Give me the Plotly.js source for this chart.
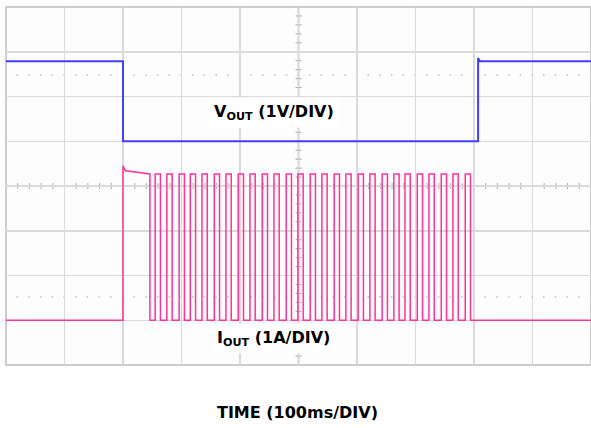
<!DOCTYPE html>
<html>
<head>
<meta charset="utf-8">
<script src="https://cdn.plot.ly/plotly-3.0.1.min.js"></script>
<style>html,body{margin:0;padding:0;background:#fff;}#chart{width:591px;height:428px;}</style>
</head>
<body>
<div id="chart"></div>
<script>
// ---- data (time in ms, 100 ms/div) ----
const voutTime = [0, 200, 200, 807, 807, 810, 1000];
const voutVolts = [1.79, 1.79, 0, 0, 1.86, 1.79, 1.79];

const ioutStartTime = [0, 200, 200, 204, 246];
const ioutStartAmps = [0, 0, 3.45, 3.34, 3.27];
const pulseRise = [255, 275, 296, 315, 335, 356, 376, 397, 417, 438, 458, 479, 499, 520, 540, 561, 581, 602, 622, 643, 663, 682, 703, 723, 744, 764, 785];
const pulseFall = [264, 284, 305, 324, 344, 365, 385, 406, 426, 447, 467, 488, 508, 529, 549, 570, 590, 611, 631, 652, 672, 691, 712, 732, 753, 773, 794];
const pulseHigh = 3.27;
const endTime = 1000;

const voutLabel = '<b>V<sub>OUT</sub> (1V/DIV)</b>';
const ioutLabel = '<b>I<sub>OUT</sub> (1A/DIV)</b>';
const timeLabel = '<b>TIME (100ms/DIV)</b>';

// ---- build current waveform ----
const ix = ioutStartTime.slice();
const iy = ioutStartAmps.slice();
ix.push(ioutStartTime[ioutStartTime.length - 1]); iy.push(0);
for (let k = 0; k < pulseRise.length; k++) {
  ix.push(pulseRise[k], pulseRise[k], pulseFall[k], pulseFall[k]);
  iy.push(0, pulseHigh, pulseHigh, 0);
}
ix.push(endTime); iy.push(0);

const traces = [
  {x: voutTime, y: voutVolts, type: 'scatter', mode: 'lines', line: {color: '#3f3fff', width: 2}, yaxis: 'y', hoverinfo: 'skip'},
  {x: ix, y: iy, type: 'scatter', mode: 'lines', line: {color: '#ff3399', width: 1.5}, yaxis: 'y2', hoverinfo: 'skip'}
];

// ---- decorations ----
const W = 585, H = 358;
const shapes = [];
const grey = '#a9a9a9';
shapes.push({type: 'line', xref: 'paper', yref: 'paper', x0: 0, x1: 1, y0: 0.5, y1: 0.5, line: {color: grey, width: 1.5}, layer: 'below'});
shapes.push({type: 'line', xref: 'paper', yref: 'paper', x0: 0.5, x1: 0.5, y0: 0, y1: 1, line: {color: grey, width: 1.5}, layer: 'below'});
const tl = 3;
for (let i = 1; i < 50; i++) {
  const px = i / 50;
  shapes.push({type: 'line', xref: 'paper', yref: 'paper', x0: px, x1: px, y0: 0.5 - tl / H, y1: 0.5 + tl / H, line: {color: grey, width: 1}, layer: 'below'});
}
for (let i = 1; i < 40; i++) {
  const py = i / 40;
  shapes.push({type: 'line', xref: 'paper', yref: 'paper', x0: 0.5 - tl / W, x1: 0.5 + tl / W, y0: py, y1: py, line: {color: grey, width: 1}, layer: 'below'});
}
// dotted reference lines
[0.81, 0.19].forEach(function (py) {
  shapes.push({type: 'line', xref: 'paper', yref: 'paper', x0: 0.018, x1: 1, y0: py, y1: py, line: {color: '#bdbdbd', width: 1.5, dash: '1.5px,10.2px'}, layer: 'below'});
});
// frame
shapes.push({type: 'rect', xref: 'paper', yref: 'paper', x0: 0, x1: 1, y0: 0, y1: 1, line: {color: '#cccccc', width: 2}, layer: 'below'});

const annotations = [
  {text: voutLabel, xref: 'paper', yref: 'paper', x: 0.458, y: 0.75, showarrow: false, bgcolor: '#ffffff', borderpad: 4,
   font: {family: 'DejaVu Sans', size: 16, color: '#000'}},
  {text: ioutLabel, xref: 'paper', yref: 'paper', x: 0.458, y: 0.03, showarrow: false, bgcolor: '#ffffff', borderpad: 4,
   font: {family: 'DejaVu Sans', size: 16, color: '#000'}},
  {text: timeLabel, xref: 'paper', yref: 'paper', x: 0.498, y: -0.165, showarrow: false,
   font: {family: 'DejaVu Sans', size: 16, color: '#000'}}
];

const layout = {
  width: 591, height: 428,
  margin: {l: 6, r: 0, t: 7, b: 63},
  paper_bgcolor: '#ffffff', plot_bgcolor: '#fdfdfd',
  showlegend: false,
  xaxis: {range: [0, 1000], tick0: 0, dtick: 100, showgrid: true, gridcolor: '#dadada', gridwidth: 1.5,
          showticklabels: false, zeroline: false, showline: false, ticks: '', fixedrange: true},
  yaxis: {range: [-5, 3], tick0: 0, dtick: 1, showgrid: true, gridcolor: '#dadada', gridwidth: 1.5,
          showticklabels: false, zeroline: false, showline: false, ticks: '', fixedrange: true},
  yaxis2: {range: [-1, 7], overlaying: 'y', showgrid: false, showticklabels: false, zeroline: false, showline: false, ticks: '', fixedrange: true},
  shapes: shapes,
  annotations: annotations
};

Plotly.newPlot('chart', traces, layout, {displayModeBar: false, staticPlot: true});
</script>
</body>
</html>
